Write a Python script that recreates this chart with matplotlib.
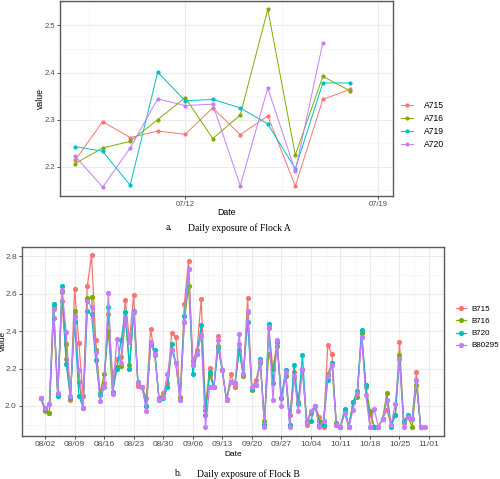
import numpy as np
import pandas as pd
import matplotlib
matplotlib.use("Agg")
import matplotlib.pyplot as plt
import matplotlib.dates as mdates

nan = np.nan

# ---------------- Flock A ----------------
a_dates = pd.date_range("2019-07-08", "2019-07-19", freq="D")
a_names = ["A715", "A716", "A719", "A720"]
A715 = [2.214, 2.296, 2.262, 2.276, 2.269, 2.325, 2.268, 2.308, 2.159, 2.343, 2.365, nan]
A716 = [2.207, 2.240, 2.254, 2.300, 2.347, 2.260, 2.310, 2.534, 2.225, 2.392, 2.361, nan]
A719 = [2.243, 2.233, 2.161, 2.401, 2.340, 2.343, 2.325, 2.291, 2.196, 2.378, 2.378, nan]
A720 = [2.223, 2.157, 2.240, 2.344, 2.330, 2.333, 2.160, 2.367, 2.191, 2.463, nan, nan]
a_ticks = ["2019-07-12", "2019-07-19"]

# ---------------- Flock B ----------------
b_dates = pd.date_range("2019-08-01", "2019-10-31", freq="D")
b_names = ["B715", "B716", "B720", "B80295"]
B715 = [2.04, 1.975, 1.965, 2.47, 2.06, 2.56, 2.25, 2.03, 2.625, 2.335,
        2.055, 2.64, 2.805, 2.35, 2.07, 2.12, 2.49, 2.16, 2.25, 2.26,
        2.565, 2.35, 2.595, 2.105, 2.1, 2.045, 2.41, 2.27, 2.04, 2.07,
        2.12, 2.39, 2.37, 2.05, 2.545, 2.775, 2.24, 2.3, 2.57, 2.0,
        2.205, 2.1, 2.375, 2.19, 2.03, 2.17, 2.1, 2.33, 2.17, 2.575,
        2.095, 2.14, 2.235, 1.9, 2.415, 2.2, 2.34, 2.04, 2.18, 1.95,
        2.18, 2.02, 2.2, 1.9, 1.96, 2.0, 1.94, 1.89, 2.325, 2.275,
        1.91, 1.89, 1.96, 1.89, 2.02, 2.07, 2.37, 2.1, 1.95, 1.89,
        1.89, 1.93, 1.98, 1.9, 1.95, 2.34, 1.91, 1.94, 1.93, 2.18,
        1.89, nan]
B716 = [2.04, 1.98, 1.965, 2.53, 2.06, 2.61, 2.33, 2.04, 2.51, 2.13,
        1.99, 2.575, 2.58, 2.3, 2.065, 2.17, 2.4, 2.07, 2.21, 2.215,
        2.47, 2.22, 2.5, 2.12, 2.1, 2.0, 2.33, 2.28, 2.04, 2.05,
        2.1, 2.3, 2.23, 2.04, 2.45, 2.64, 2.22, 2.28, 2.38, 1.98,
        2.165, 2.1, 2.32, 2.19, 2.03, 2.13, 2.12, 2.3, 2.16, 2.5,
        2.085, 2.11, 2.23, 1.92, 2.28, 2.2, 2.32, 2.04, 2.16, 1.9,
        2.15, 2.02, 2.19, 1.92, 1.97, 2.0, 1.92, 1.92, 2.17, 2.23,
        1.91, 1.89, 1.97, 1.89, 2.02, 2.05, 2.39, 2.11, 1.975, 1.89,
        1.89, 1.93, 2.07, 1.9, 1.95, 2.27, 1.92, 1.94, 1.89, 2.11,
        1.89, nan]
B720 = [2.04, 1.985, 2.01, 2.545, 2.055, 2.64, 2.225, 2.05, 2.45, 2.055,
        1.99, 2.505, 2.49, 2.245, 2.06, 2.1, 2.53, 2.075, 2.2, 2.35,
        2.5, 2.2, 2.51, 2.13, 2.1, 2.0, 2.33, 2.3, 2.03, 2.04,
        2.1, 2.33, 2.23, 2.03, 2.48, 2.73, 2.17, 2.28, 2.43, 1.95,
        2.18, 2.1, 2.31, 2.19, 2.035, 2.13, 2.12, 2.3, 2.165, 2.45,
        2.09, 2.11, 2.25, 1.9, 2.44, 2.12, 2.34, 2.04, 2.19, 1.9,
        2.22, 2.01, 2.27, 1.91, 1.92, 2.0, 1.9, 1.9, 2.14, 2.23,
        1.9, 1.89, 1.985, 1.89, 2.02, 2.08, 2.405, 2.11, 1.89, 1.89,
        1.89, 1.93, 2.03, 1.89, 1.95, 2.25, 1.92, 1.95, 1.93, 2.14,
        1.89, nan]
B80295 = [2.045, 1.99, 2.01, 2.52, 2.07, 2.62, 2.395, 2.055, 2.48, 2.19,
          1.99, 2.56, 2.53, 2.29, 2.025, 2.1, 2.605, 2.065, 2.36, 2.23,
          2.47, 2.34, 2.5, 2.12, 2.1, 1.975, 2.34, 2.28, 2.03, 2.05,
          2.17, 2.3, 2.23, 2.03, 2.45, 2.73, 2.22, 2.28, 2.38, 1.887,
          2.1, 2.1, 2.35, 2.19, 2.03, 2.13, 2.12, 2.385, 2.17, 2.505,
          2.1, 2.11, 2.24, 1.887, 2.42, 2.03, 2.35, 2.0, 2.18, 1.887,
          2.16, 1.975, 2.2, 1.91, 1.975, 2.0, 1.887, 1.92, 2.16, 2.22,
          1.9, 1.887, 1.96, 1.887, 1.98, 2.07, 2.37, 2.06, 1.887, 1.985,
          1.887, 1.93, 2.03, 1.9, 2.01, 2.25, 1.887, 1.94, 1.93, 2.14,
          1.887, 1.887]
b_ticks = pd.date_range("2019-08-02", "2019-11-01", freq="7D")

colors = ["#F8766D", "#7CAE00", "#00BFC4", "#C77CFF"]

plt.rcParams["font.family"] = ["Liberation Sans", "DejaVu Sans"]

W, H = 500, 479
fig = plt.figure(figsize=(W / 100, H / 100), dpi=100)


def ax_rect(l, t, r, b):
    return [l / W, 1 - b / H, (r - l) / W, (b - t) / H]


def style(ax, xnum, allvals, major, minor_y, fs):
    lo, hi = xnum[0], xnum[-1]
    pad = 0.05 * (hi - lo)
    ax.set_xlim(lo - pad, hi + pad)
    vmin, vmax = np.nanmin(allvals), np.nanmax(allvals)
    vp = 0.05 * (vmax - vmin)
    ax.set_ylim(vmin - vp, vmax + vp)
    mnum = mdates.date2num(pd.to_datetime(major).to_pydatetime())
    ax.set_xticks(mnum)
    ax.set_xticklabels([pd.Timestamp(d).strftime("%m/%d") for d in major])
    step = mnum[1] - mnum[0]
    minors = np.arange(mnum[0] - step / 2, hi + pad, step)
    minors = minors[(minors > lo - pad) & (minors < hi + pad)]
    ax.set_xticks(minors, minor=True)
    ax.yaxis.set_minor_locator(matplotlib.ticker.MultipleLocator(minor_y))
    ax.grid(True, which="major", color="#EBEBEB", lw=0.8, zorder=0)
    ax.grid(True, which="minor", color="#F3F3F3", lw=0.5, zorder=0)
    ax.set_axisbelow(True)
    for s in ax.spines.values():
        s.set_color("#5a5a5a")
        s.set_linewidth(1.0)
    ax.tick_params(which="major", length=2, width=0.6, color="#333333",
                   labelsize=fs, labelcolor="#4D4D4D", pad=1.5)
    ax.tick_params(which="minor", length=0)


# ---- top panel ----
ax1 = fig.add_axes(ax_rect(60, 0.5, 393, 196))
xa = mdates.date2num(a_dates.to_pydatetime())
for name, vals, c in zip(a_names, [A715, A716, A719, A720], colors):
    ax1.plot(xa, vals, color=c, lw=0.7, marker="o", ms=2.0, label=name, zorder=3)
style(ax1, xa, np.array([A715, A716, A719, A720], dtype=float), a_ticks, 0.05, 5.5)
ax1.yaxis.set_major_locator(matplotlib.ticker.MultipleLocator(0.1))
ax1.yaxis.set_major_formatter(matplotlib.ticker.FormatStrFormatter("%.1f"))
ax1.set_xlabel("Date", fontsize=6.3, color="black")
ax1.set_ylabel("value", fontsize=6.3, color="black")
ax1.xaxis.set_label_coords(0.5, -0.062)
ax1.yaxis.set_label_coords(-0.045, 0.5)
ax1.legend(loc="center left", bbox_to_anchor=(401 / W, 1 - 125 / H),
           bbox_transform=fig.transFigure, frameon=False, fontsize=6.2,
           handlelength=1.4, handletextpad=1.3, labelspacing=0.5,
           borderpad=0, borderaxespad=0)

# ---- bottom panel ----
ax2 = fig.add_axes(ax_rect(21.7, 246.7, 444, 435.7))
xb = mdates.date2num(b_dates.to_pydatetime())
for name, vals, c in zip(b_names, [B715, B716, B720, B80295], colors):
    ax2.plot(xb, vals, color=c, lw=0.9, marker="o", ms=2.7, label=name, zorder=3)
style(ax2, xb, np.array([B715, B716, B720, B80295], dtype=float), b_ticks, 0.1, 6.0)
ax2.yaxis.set_major_locator(matplotlib.ticker.MultipleLocator(0.2))
ax2.yaxis.set_major_formatter(matplotlib.ticker.FormatStrFormatter("%.1f"))
ax2.set_xlabel("Date", fontsize=6.0, color="black")
ax2.set_ylabel("value", fontsize=6.0, color="black")
ax2.xaxis.set_label_coords(0.5, -0.083)
ax2.yaxis.set_label_coords(-0.036, 0.5)
ax2.legend(loc="center left", bbox_to_anchor=(456 / W, 1 - 327.5 / H),
           bbox_transform=fig.transFigure, frameon=False, fontsize=5.8,
           handlelength=1.2, handletextpad=0.7, labelspacing=0.55,
           borderpad=0, borderaxespad=0)

# ---- captions ----
cap = dict(family=["Liberation Serif", "DejaVu Serif"], fontsize=6.9, va="center")
fig.text(165.5 / W, 1 - 227.7 / H, "a.", **cap)
fig.text(187.7 / W, 1 - 227.7 / H, "Daily exposure of Flock A", **cap)
fig.text(174 / W, 1 - 474 / H, "b.", **cap)
fig.text(196.7 / W, 1 - 474 / H, "Daily exposure of Flock B", **cap)

fig.savefig("out.png", dpi=100)
